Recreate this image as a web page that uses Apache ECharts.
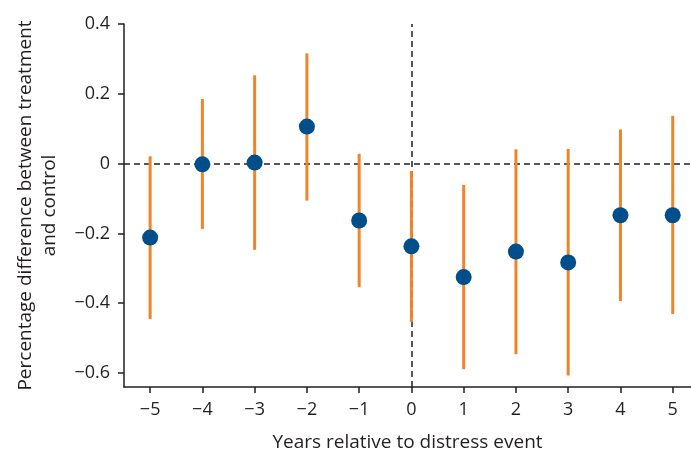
<!DOCTYPE html>
<html>
<head>
<meta charset="utf-8">
<script src="https://cdn.jsdelivr.net/npm/echarts@6/dist/echarts.min.js"></script>
<style>html,body{margin:0;padding:0;background:#fff;}#c{width:691px;height:457px;}</style>
</head>
<body>
<div id="c"></div>
<script>
const years = [-5, -4, -3, -2, -1, 0, 1, 2, 3, 4, 5];
const estimates = [-0.212, -0.002, 0.003, 0.106, -0.163, -0.237, -0.325, -0.252, -0.283, -0.148, -0.148];
const ciLow = [-0.445, -0.187, -0.247, -0.106, -0.354, -0.454, -0.589, -0.546, -0.607, -0.394, -0.431];
const ciHigh = [0.021, 0.185, 0.253, 0.316, 0.028, -0.021, -0.061, 0.041, 0.042, 0.098, 0.137];
const xTickLabels = ['\u22125', '\u22124', '\u22123', '\u22122', '\u22121', '0', '1', '2', '3', '4', '5'];
const yTicks = [-0.6, -0.4, -0.2, 0, 0.2, 0.4];
const yTickLabels = ['\u22120.6', '\u22120.4', '\u22120.2', '0', '0.2', '0.4'];

const FONT = 'Open Sans';
const TXT = '#231f20';
const chart = echarts.init(document.getElementById('c'), null, {renderer: 'canvas'});

const axisCommon = {
  axisLine: {show: true, onZero: false, lineStyle: {color: TXT, width: 1.5}},
  splitLine: {show: false},
};

chart.setOption({
  animation: false,
  grid: {left: 124, right: 0, top: 24, bottom: 67, containLabel: false},
  xAxis: Object.assign({
    type: 'value', min: -5.5, max: 5.35,
    name: 'Years relative to distress event', nameLocation: 'middle', nameGap: 46,
    nameTextStyle: {fontFamily: FONT, fontSize: 19, color: TXT},
    axisTick: {show: true, inside: false, length: 6, lineStyle: {color: TXT, width: 1.5}, customValues: years},
    axisLabel: {fontFamily: FONT, fontSize: 18, color: TXT, margin: 14, customValues: years,
      formatter: v => xTickLabels[years.indexOf(Math.round(v))]}
  }, axisCommon),
  yAxis: Object.assign({
    type: 'value', min: -0.64, max: 0.4,
    name: 'Percentage difference between treatment\nand control', nameLocation: 'middle', nameGap: 62,
    nameRotate: 90,
    nameTextStyle: {fontFamily: FONT, fontSize: 19, color: TXT, lineHeight: 24, align: 'center'},
    axisTick: {show: true, inside: false, length: 6, lineStyle: {color: TXT, width: 1.5}, customValues: yTicks},
    axisLabel: {fontFamily: FONT, fontSize: 18, color: TXT, margin: 14, customValues: yTicks,
      formatter: v => { const i = yTicks.findIndex(t => Math.abs(t - v) < 1e-6); return i >= 0 ? yTickLabels[i] : ''; }}
  }, axisCommon),
  series: [
    {
      type: 'custom',
      z: 2,
      data: years.map((x, i) => [x, ciLow[i], ciHigh[i]]),
      renderItem: (params, api) => {
        const p1 = api.coord([api.value(0), api.value(1)]);
        const p2 = api.coord([api.value(0), api.value(2)]);
        return {type: 'line', shape: {x1: p1[0], y1: p1[1], x2: p2[0], y2: p2[1]},
          style: {stroke: '#ef8429', lineWidth: 3}};
      },
      encode: {x: 0, y: [1, 2]}
    },
    {
      type: 'scatter',
      z: 3,
      symbol: 'circle',
      symbolSize: 16,
      itemStyle: {color: '#004f8b', opacity: 1},
      data: years.map((x, i) => [x, estimates[i]]),
      markLine: {
        silent: true, symbol: 'none', z: 1,
        label: {show: false},
        lineStyle: {color: '#231f20', type: [6, 4], width: 1.5},
        data: [{yAxis: 0}, {xAxis: 0}]
      }
    }
  ]
});
</script>
</body>
</html>
